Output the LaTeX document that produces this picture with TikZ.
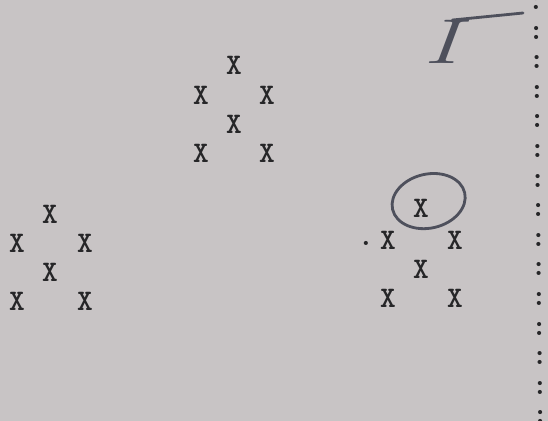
\documentclass[tikz,border=0pt]{standalone}
\usepackage{xcolor}
\definecolor{paper}{RGB}{200,196,197}
\definecolor{ink}{RGB}{38,38,40}
\definecolor{pencil}{RGB}{78,80,92}
\usepackage{tikz}
\usetikzlibrary{positioning, calc}

\begin{document}
\begin{tikzpicture}[
        x=0.02cm, y=-0.02cm,
        typed/.style={inner sep=0pt, text=ink, font=\ttfamily\bfseries\fontsize{17}{17}\selectfont},
        hand/.style={inner sep=0pt, text=pencil, xscale=1.5, font=\itshape\fontsize{36}{36}\selectfont},
        pen/.style={draw=pencil, line width=1.6pt, line cap=round}
    ]
        \fill[paper] (0,0) rectangle (548,421);
        \useasboundingbox (0,0) rectangle (548,421);

        % upper group
        \node[typed] (up1) at (234,65) {X};
        \node[typed] (up2) at (201,95) {X};
        \node[typed] (up3) at (267,95) {X};
        \node[typed] (up4) at (234,124) {X};
        \node[typed] (up5) at (201,153) {X};
        \node[typed] (up6) at (267,153) {X};

        % left group
        \node[typed] (left1) at (50,214) {X};
        \node[typed] (left2) at (17,243) {X};
        \node[typed] (left3) at (85,243) {X};
        \node[typed] (left4) at (50,272) {X};
        \node[typed] (left5) at (17,301) {X};
        \node[typed] (left6) at (85,301) {X};

        % right group
        \node[typed] (right1) at (421,208) {X};
        \node[typed] (right2) at (388,240) {X};
        \node[typed] (right3) at (455,240) {X};
        \node[typed] (right4) at (421,269) {X};
        \node[typed] (right5) at (388,298) {X};
        \node[typed] (right6) at (455,298) {X};
        \node[typed] (dot) at (366,243) {.};

        % margin colons
        \foreach \k in {0,...,14}
            \node[typed] (col\k) at ({536+0.3*\k},{3+29.6*\k}) {:};

        % handwriting
        \node[hand] (numeral) at (441,42) {I};
        \draw[pen] ([xshift=-4]numeral.north east) -- (523,13);
        \draw[pen, rotate around={13:(right1)}] ([shift={(9,-5)}]right1) ellipse [x radius=37, y radius=27];
    \end{tikzpicture}
\end{document}
